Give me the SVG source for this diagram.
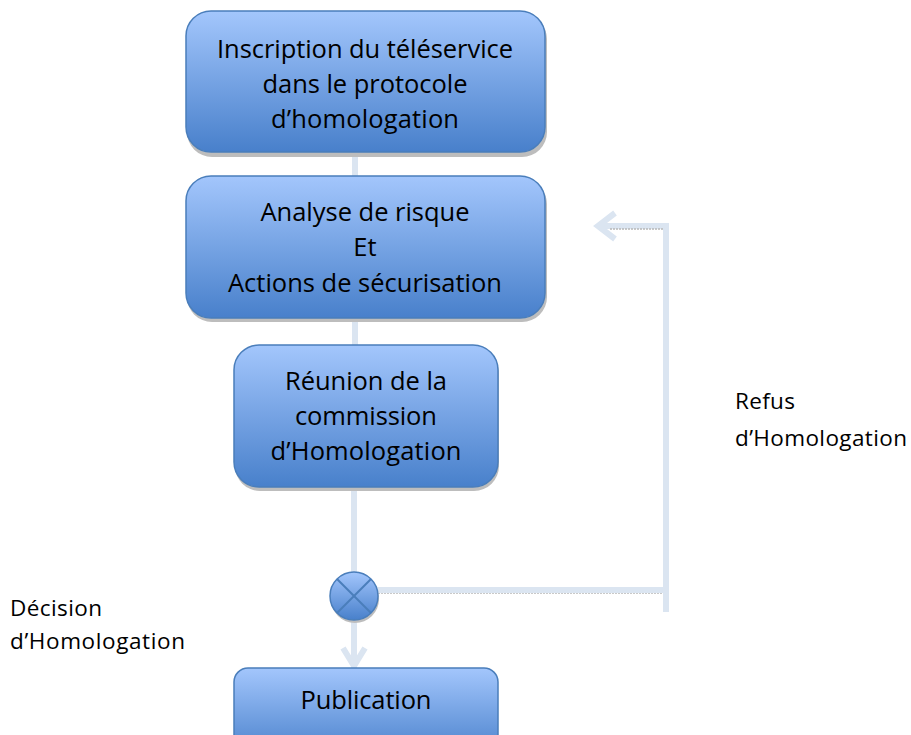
<svg xmlns="http://www.w3.org/2000/svg" width="911" height="735" viewBox="0 0 911 735">
<style>
.box{fill:url(#g);stroke:#4a7ebb;stroke-width:1.5}
.sh{fill:#bdbdbd}
.t{font-family:"Open Sans","Liberation Sans",sans-serif;font-size:25.5px;fill:#000;text-anchor:middle;font-variant-ligatures:none}
.l{font-family:"Open Sans","Liberation Sans",sans-serif;font-size:22.5px;fill:#000;font-variant-ligatures:none}
.c{fill:none;stroke:#dbe5f1;stroke-width:6}
.cs{fill:none;stroke:#b8b8b8;stroke-width:1.5;stroke-dasharray:2 1}
</style>
<defs>
<linearGradient id="g" x1="0" y1="0" x2="0" y2="1">
<stop offset="0" stop-color="#a3c6fc"/>
<stop offset="1" stop-color="#4880cb"/>
</linearGradient>
</defs>
<rect width="911" height="735" fill="#fff"/>
<g id="connectors">
<line class="c" x1="355" y1="152" x2="355" y2="178"/>
<line class="c" x1="355" y1="318" x2="355" y2="347"/>
<line class="c" x1="354" y1="487" x2="354" y2="575"/>
<line class="c" x1="354" y1="618" x2="354" y2="668"/>
<polyline class="c" points="343,648 354,666 365,648"/>
<line class="cs" x1="378" y1="593" x2="664" y2="593"/>
<line class="c" x1="378" y1="590" x2="666" y2="590"/>
<line class="cs" x1="664" y1="229" x2="664" y2="612"/>
<polyline class="c" points="666,612 666,226 600,226"/>
<line class="cs" x1="610" y1="229" x2="664" y2="229"/>
<polyline class="c" points="615,213 598,226 615,239"/>
</g>
<g id="n1">
<rect class="sh" x="187" y="14" width="360" height="143" rx="25"/>
<rect class="box" x="186" y="11" width="359" height="141" rx="25"/>
<text class="t" x="365" y="58" textLength="296" lengthAdjust="spacing">Inscription du téléservice</text>
<text class="t" x="365" y="93" textLength="205" lengthAdjust="spacing">dans le protocole</text>
<text class="t" x="365" y="128" textLength="188" lengthAdjust="spacing">d’homologation</text>
</g>
<g id="n2">
<rect class="sh" x="187" y="179" width="360" height="143" rx="25"/>
<rect class="box" x="186" y="176" width="359" height="142" rx="25"/>
<text class="t" x="365" y="221" textLength="209" lengthAdjust="spacing">Analyse de risque</text>
<text class="t" x="365" y="256">Et</text>
<text class="t" x="365" y="292" textLength="274" lengthAdjust="spacing">Actions de sécurisation</text>
</g>
<g id="n3">
<rect class="sh" x="235" y="348" width="264" height="143" rx="25"/>
<rect class="box" x="234" y="345" width="264" height="142" rx="25"/>
<text class="t" x="366" y="390" textLength="162" lengthAdjust="spacing">Réunion de la</text>
<text class="t" x="366" y="425" textLength="142" lengthAdjust="spacing">commission</text>
<text class="t" x="366" y="460" textLength="191" lengthAdjust="spacing">d’Homologation</text>
</g>
<g id="n4">
<rect class="box" x="234" y="668" width="264" height="90" rx="14"/>
<text class="t" x="366" y="709" textLength="131" lengthAdjust="spacing">Publication</text>
</g>
<g id="decision">
<circle cx="355" cy="599" r="24" fill="#bdbdbd"/>
<circle cx="354" cy="596" r="24" fill="url(#g)" stroke="#4a7ebb" stroke-width="1.5"/>
<line x1="337" y1="579" x2="371" y2="613" stroke="#4a7ebb" stroke-width="2"/>
<line x1="371" y1="579" x2="337" y2="613" stroke="#4a7ebb" stroke-width="2"/>
</g>
<g id="labels">
<text class="l" x="735" y="409" textLength="60" lengthAdjust="spacing">Refus</text>
<text class="l" x="735" y="446" textLength="172" lengthAdjust="spacing">d’Homologation</text>
<text class="l" x="10" y="616" textLength="92" lengthAdjust="spacing">Décision</text>
<text class="l" x="10" y="649" textLength="175" lengthAdjust="spacing">d’Homologation</text>
</g>
</svg>
